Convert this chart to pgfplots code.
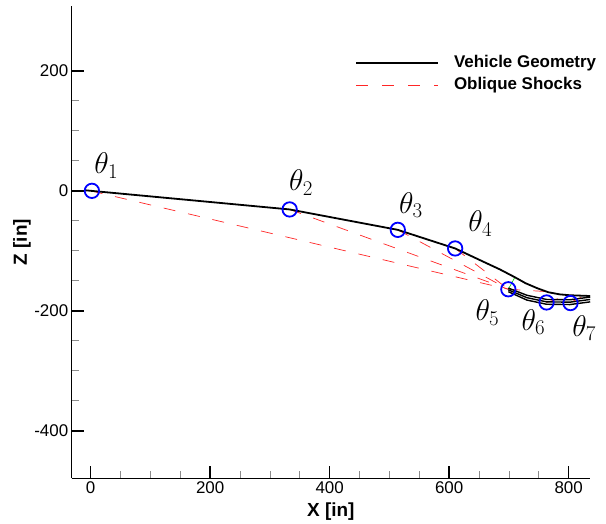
\RequirePackage{fix-cm}
\documentclass[border=0pt]{standalone}
\usepackage[no-math]{fontspec}
\setmainfont{Liberation Sans}
\usepackage{pgfplots}
\pgfplotsset{compat=1.18}
\usetikzlibrary{calc}

\pgfplotstableread{
x y
-10 1
333 -31
514 -65
610 -96
657 -118
685 -131
710 -144
728 -154
748 -162.5
766 -169
785 -172.5
802 -174
830 -175
836 -175.5
}\upper

\begin{document}
\begin{tikzpicture}
\begin{axis}[
  scale only axis, width=518.3bp, height=472.3bp,
  xmin=-31.8, xmax=835.7, ymin=-479, ymax=308,
  axis x line*=bottom, axis y line*=left,
  axis line style={line width=1.5bp, -},
  xtick={0,200,400,600,800}, ytick={-400,-200,0,200},
  minor x tick num=3, minor y tick num=3,
  tick align=inside,
  major tick length=12bp, minor tick length=7bp,
  major tick style={line width=1.5bp, black},
  minor tick style={line width=0.8bp, black!45},
  /pgf/number format/assume math mode=true,
  tick label style={font=\fontsize{17}{20}\selectfont},
  xlabel={X [in]}, ylabel={Z [in]},
  label style={font=\bfseries\fontsize{19}{22}\selectfont},
  xlabel style={at={(axis description cs:0.5,-0.0714)}, anchor=center},
  ylabel style={at={(axis description cs:-0.0959,0.5)}, anchor=center},
  legend style={draw=none, fill=none, inner sep=0pt,
    at={(axis description cs:0.5466,0.897)}, anchor=north west,
    font=\bfseries\fontsize{17}{20}\selectfont, row sep=6.5bp,
    nodes={inner sep=0pt, text height=12.5bp, text depth=3.6bp},
    /tikz/every odd column/.append style={column sep=15bp}},
  legend cell align=left,
  legend image code/.code={\draw[#1] (0bp,0bp) -- (82bp,0bp);},
  clip=false,
]
\addlegendimage{black, line width=1.8bp}
\addlegendentry{Vehicle Geometry}
\addlegendimage{red!85!white, line width=0.8bp, dash pattern=on 12bp off 14bp}
\addlegendentry{Oblique Shocks}

% oblique shocks
\addplot[forget plot, red!85!white, line width=0.7bp, dash pattern=on 12bp off 13bp] coordinates {(0,0) (699,-164)};
\addplot[forget plot, red!85!white, line width=0.7bp, dash pattern=on 12bp off 13bp] coordinates {(333,-31) (699,-164)};
\addplot[forget plot, red!85!white, line width=0.7bp, dash pattern=on 12bp off 13bp] coordinates {(514,-65) (699,-164)};
\addplot[forget plot, red!85!white, line width=0.7bp, dash pattern=on 12bp off 13bp] coordinates {(610,-96) (699,-164)};
\addplot[forget plot, red!85!white, line width=0.7bp, dash pattern=on 12bp off 13bp] coordinates {(699,-164) (765,-168)};
\addplot[forget plot, red!85!white, line width=0.7bp, dash pattern=on 12bp off 13bp] coordinates {(763,-186) (800,-174)};
\addplot[forget plot, red!85!white, line width=0.7bp, dash pattern=on 12bp off 13bp] coordinates {(803,-186) (826,-175)};
% normal line
\addplot[forget plot, green!80!black, line width=0.6bp] coordinates {(699,-164) (710,-144)};

% vehicle geometry
\addplot[forget plot, black, line width=1.8bp] table {\upper};
\addplot[forget plot, black, line width=1.4bp] coordinates {(699,-162) (730,-174) (763,-181) (802,-181.5) (836,-177)};
\addplot[forget plot, black, line width=1.4bp] coordinates {(699,-165) (730,-178) (763,-185) (802,-185.5) (836,-181)};
\addplot[forget plot, black, line width=1.4bp] coordinates {(699,-168) (730,-182) (763,-189) (802,-189.5) (836,-185)};

% circles
\addplot[forget plot, only marks, mark=o, mark size=7.2bp, blue, line width=1.8bp]
  coordinates {(2,0) (333,-31) (514,-65) (610,-96) (699,-164) (763,-186) (803,-187)};

\begin{scope}[every node/.style={font=\fontsize{30}{34}\selectfont, inner sep=0pt}]
\node at (axis cs:26,42) {$\theta_1$};
\node at (axis cs:352,14) {$\theta_2$};
\node at (axis cs:536,-24) {$\theta_3$};
\node at (axis cs:652,-55) {$\theta_4$};
\node at (axis cs:664,-203) {$\theta_5$};
\node at (axis cs:741,-219) {$\theta_6$};
\node at (axis cs:826,-229) {$\theta_7$};
\end{scope}
\end{axis}
\pgfresetboundingbox
\path ($(current axis.south west)+(-71.7bp,-45.7bp)$) rectangle ($(current axis.north east)+(16bp,6bp)$);
\end{tikzpicture}
\end{document}
